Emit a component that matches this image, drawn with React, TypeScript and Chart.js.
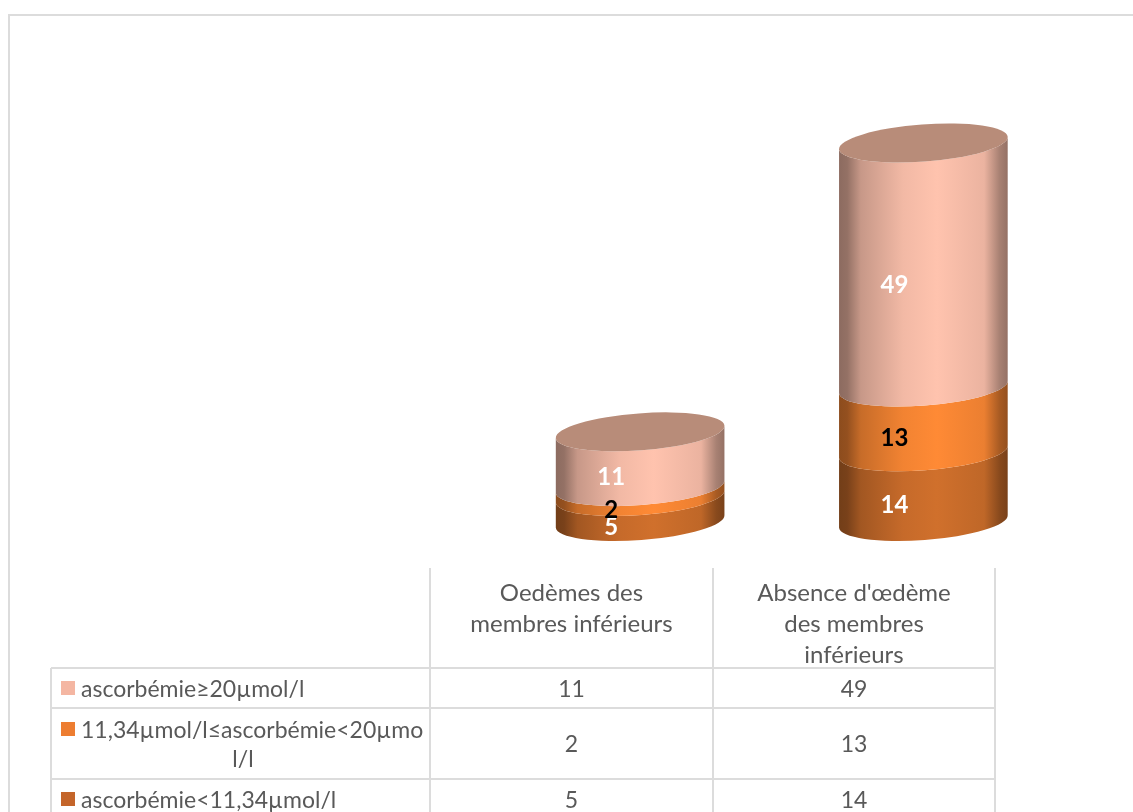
import React, { useEffect, useRef } from "react";
import { Chart, registerables } from "chart.js";

Chart.register(...registerables);

const categories = ["Oedèmes des membres inférieurs", "Absence d'œdème des membres inférieurs"];
const categoryLines = [
  ["Oedèmes des", "membres inférieurs"],
  ["Absence d'œdème", "des membres", "inférieurs"],
];
const seriesNames = ["ascorbémie<11,34µmol/l", "11,34µmol/l≤ascorbémie<20µmol/l", "ascorbémie≥20µmol/l"];
const lowValues = [5, 14];
const midValues = [2, 13];
const highValues = [11, 49];
const seriesPeak = [[208, 112, 44], [255, 138, 53], [255, 195, 174]];
const swatchColors = ["#C4652A", "#ED7D31", "#F4B6A2"];
const labelColors = ["#FFFFFF", "#000000", "#FFFFFF"];
const FONT = "Lato, Carlito, sans-serif";
const TEXT = "#595959";
const LINE = "#DCDCDC";

const stopPos = [0, 0.05, 0.13, 0.38, 0.58, 0.86, 0.95, 1];
const stopMul = [0.55, 0.58, 0.78, 0.95, 1, 0.92, 0.66, 0.58];
const TILT = -4.25 * (Math.PI / 180);
const MINOR = 18.5;

const cylinderPlugin = {
  id: "cylinder",
  beforeDatasetsDraw(chart: any) {
    const ctx = chart.ctx;
    const n = chart.data.datasets.length;
    // segments, lowest first, then the cap
    for (let d = 0; d < n; d++) {
      const meta = chart.getDatasetMeta(d);
      meta.data.forEach((bar: any) => {
        const { x, y, base, width } = bar.getProps(["x", "y", "base", "width"], true);
        const a = width / 2;
        const g = ctx.createLinearGradient(x - a, 0, x + a, 0);
        stopPos.forEach((p, i) => {
          const c = seriesPeak[d].map((v) => Math.round(v * stopMul[i]));
          g.addColorStop(p, `rgb(${c[0]},${c[1]},${c[2]})`);
        });
        ctx.save();
        ctx.beginPath();
        ctx.ellipse(x, base, a, MINOR, TILT, 0, Math.PI, false);
        ctx.ellipse(x, y, a, MINOR, TILT, Math.PI, 0, true);
        ctx.closePath();
        ctx.fillStyle = g;
        ctx.fill();
        ctx.restore();
        if (d === n - 1) {
          ctx.save();
          ctx.beginPath();
          ctx.ellipse(x, y, a, MINOR, TILT, 0, Math.PI * 2);
          ctx.fillStyle = "#B88C79";
          ctx.fill();
          ctx.restore();
        }
      });
    }
    // value labels
    for (let d = 0; d < n; d++) {
      const meta = chart.getDatasetMeta(d);
      meta.data.forEach((bar: any, i: number) => {
        const { x, y, base } = bar.getProps(["x", "y", "base"], true);
        const value = chart.data.datasets[d].data[i];
        ctx.save();
        ctx.font = `700 24px ${FONT}`;
        ctx.textAlign = "center";
        ctx.textBaseline = "middle";
        ctx.fillStyle = labelColors[d];
        ctx.fillText(String(value), x - 29, (y + base) / 2 + (value > 40 ? 20 : 18.5));
        ctx.restore();
      });
    }
    return false;
  },
};

const abs = (left: number, top: number, width: number, height: number, extra: any = {}) => ({
  position: "absolute" as const,
  left,
  top,
  width,
  height,
  ...extra,
});

const colX = [51, 430, 713, 995];
const rowY = [668, 708, 779, 812];
const tableRows = [
  { s: 2, lines: ["ascorbémie≥20µmol/l"], v: [highValues[0], highValues[1]] },
  { s: 1, lines: ["11,34µmol/l≤ascorbémie<20µmo", "l/l"], v: [midValues[0], midValues[1]] },
  { s: 0, lines: ["ascorbémie<11,34µmol/l"], v: [lowValues[0], lowValues[1]] },
];

export default function App() {
  const ref = useRef<HTMLCanvasElement>(null);
  useEffect(() => {
    const chart = new Chart(ref.current as any, {
      type: "bar",
      data: {
        labels: categories,
        datasets: [
          { label: seriesNames[0], data: lowValues, backgroundColor: swatchColors[0] },
          { label: seriesNames[1], data: midValues, backgroundColor: swatchColors[1] },
          { label: seriesNames[2], data: highValues, backgroundColor: swatchColors[2] },
        ],
      },
      options: {
        responsive: false,
        animation: false,
        layout: { padding: { left: 498.5, right: 68, top: 123.1, bottom: 290.5 } },
        plugins: { legend: { display: false }, tooltip: { enabled: false } },
        datasets: { bar: { categoryPercentage: 1, barPercentage: 0.597 } },
        scales: {
          x: { stacked: true, display: false },
          y: { stacked: true, display: false, min: 0, max: 80 },
        },
      } as any,
      plugins: [cylinderPlugin as any],
    });
    return () => chart.destroy();
  }, []);

  const cellText = { fontFamily: FONT, fontSize: 23, color: TEXT, lineHeight: "31px", whiteSpace: "nowrap" as const };

  return (
    <div style={abs(0, 0, 1133, 812, { overflow: "hidden", background: "#fff" })}>
      <canvas ref={ref} width={1133} height={812} style={abs(0, 0, 1133, 812, { display: "block" })} />
      {/* outer frame */}
      <div style={abs(8, 14, 1125, 2, { background: LINE })} />
      <div style={abs(8, 14, 2, 798, { background: LINE })} />
      {/* table lines */}
      {colX.map((x, i) => (
        <div key={x} style={abs(x - 1, i === 0 ? 668 : 568, 2, i === 0 ? 144 : 244, { background: LINE })} />
      ))}
      {rowY.slice(0, 3).map((y) => (
        <div key={y} style={abs(51, y - 1, 945, 2, { background: LINE })} />
      ))}
      {/* header */}
      {categoryLines.map((lines, c) => (
        <div
          key={c}
          style={abs(colX[c + 1], 576, colX[c + 2] - colX[c + 1], 93, { ...cellText, fontSize: 24, textAlign: "center" })}
        >
          {lines.map((l) => (
            <div key={l}>{l}</div>
          ))}
        </div>
      ))}
      {/* rows */}
      {tableRows.map((row, r) => {
        const centre = r === 2 ? 799 : (rowY[r] + rowY[r + 1]) / 2;
        return (
          <React.Fragment key={r}>
            <div style={abs(61, centre - (row.lines.length * 29) / 2 + 7.5, 14, 14, { background: swatchColors[row.s] })} />
            <div
              style={abs(81, centre - (row.lines.length * 29) / 2, colX[1] - 81, row.lines.length * 29, {
                ...cellText,
                lineHeight: "29px",
              })}
            >
              {row.lines.map((l, i) => (
                <div key={l} style={i > 0 ? { position: "absolute", left: 61 - 81, width: 364, textAlign: "center" , top: 29 } : undefined}>
                  {l}
                </div>
              ))}
            </div>
            {row.v.map((v, c) => (
              <div
                key={c}
                style={abs(colX[c + 1], centre - 15.5, colX[c + 2] - colX[c + 1], 31, { ...cellText, textAlign: "center" })}
              >
                {v}
              </div>
            ))}
          </React.Fragment>
        );
      })}
    </div>
  );
}
